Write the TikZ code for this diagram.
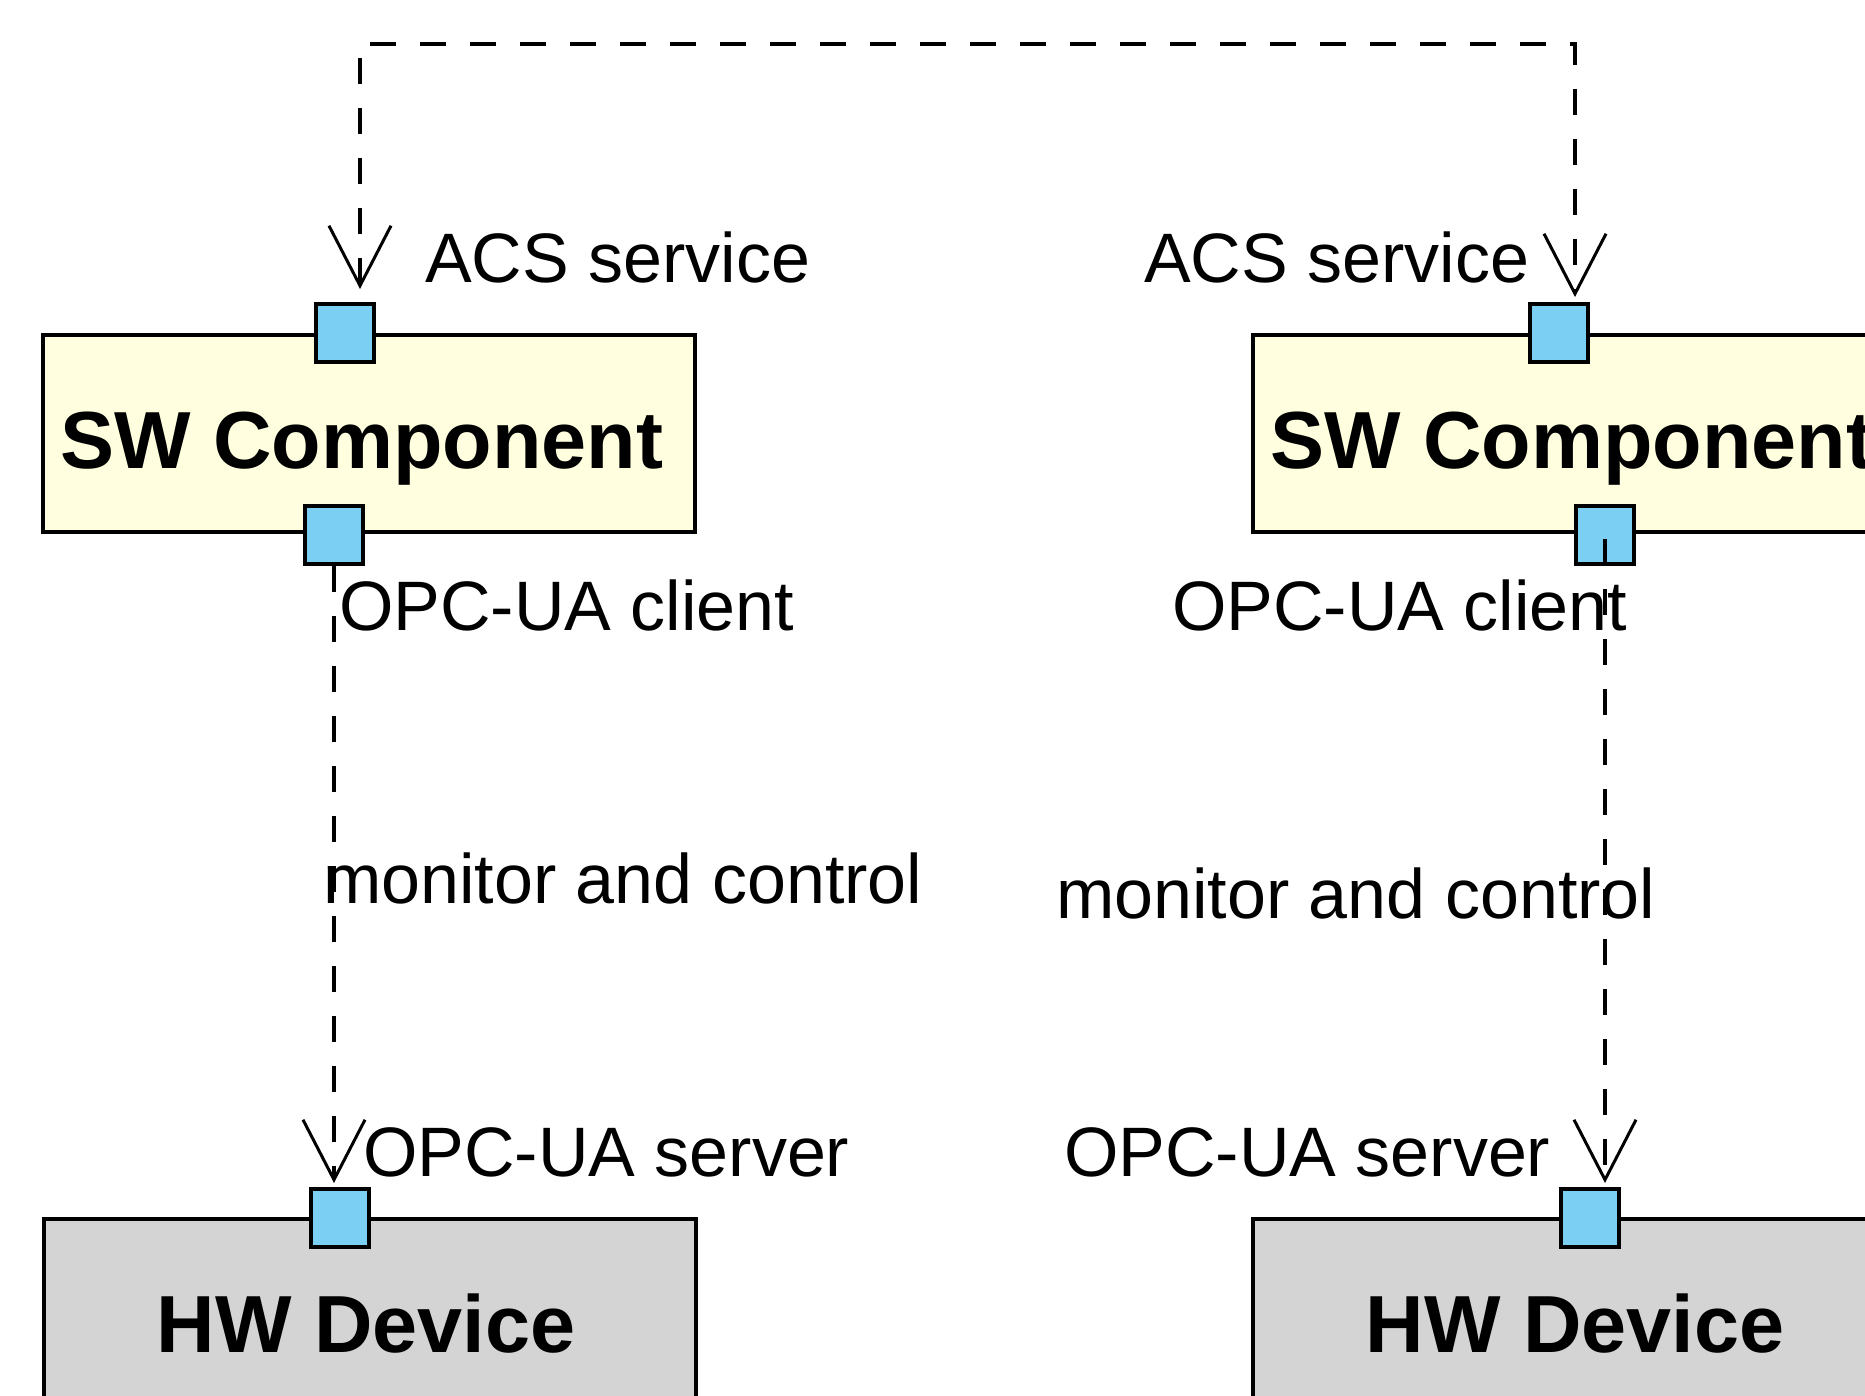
\documentclass[tikz,border=0pt]{standalone}
\usepackage{fontspec}
\setmainfont{Liberation Sans}
\usetikzlibrary{arrows.meta}
\definecolor{portblue}{RGB}{123,207,242}
\definecolor{swyellow}{RGB}{255,255,224}
\definecolor{hwgray}{RGB}{212,212,212}
\tikzset{
  compbox/.style={draw=black, line width=3.5pt, fill=swyellow, rectangle, inner sep=0pt, anchor=north west, minimum width=652pt, minimum height=197pt},
  hwbox/.style={draw=black, line width=3.5pt, fill=hwgray, rectangle, inner sep=0pt, anchor=north west, minimum width=652pt, minimum height=420pt},
  port/.style={draw=black, line width=3.5pt, fill=portblue, rectangle, inner sep=0pt, minimum width=58pt, minimum height=58pt},
  boldtext/.style={inner sep=0pt, anchor=base, font=\fontsize{81}{96}\selectfont\bfseries},
  lbl/.style={inner sep=0pt, anchor=base west, font=\fontsize{70}{84}\selectfont},
  conn/.style={draw=black, line width=3.5pt, dash pattern=on 26pt off 24pt},
  barb/.style={-{Straight Barb[length=60pt, width=62pt, line width=3pt]}},
  barbs/.style={{Straight Barb[length=60pt, width=62pt, line width=3pt]}-{Straight Barb[length=60pt, width=62pt, line width=3pt]}},
}
\begin{document}
\begin{tikzpicture}[x=1pt, y=-1pt]
\useasboundingbox (0,0) rectangle (1865,1395);
% components
\node[compbox] (sw1) at (41,333) {};
\node[compbox] (sw2) at (1251,333) {};
\node[hwbox] (hw1) at (42,1217) {};
\node[hwbox] (hw2) at (1251,1217) {};
\node[boldtext] (sw1t) at (362,468.5) {SW Component};
\node[boldtext] (sw2t) at (1572,468.5) {SW Component};
\node[boldtext] (hw1t) at (366,1352) {HW Device};
\node[boldtext] (hw2t) at (1575,1352) {HW Device};
% ports
\node[port] (p1t) at (345,333) {};
\node[port] (p1b) at (334,535) {};
\node[port] (p2t) at (1559,333) {};
\node[port] (p2b) at (1605,535) {};
\node[port] (h1) at (340,1218) {};
\node[port] (h2) at (1590,1218) {};
% connector end points
\coordinate (a1) at (360,289);
\coordinate (c1) at (360,44);
\coordinate (c2) at (1575,44);
\coordinate (a2) at (1575,297);
\coordinate (m1) at (334,1183);
\coordinate (m2s) at (1605,539);
\coordinate (m2) at (1605,1183);
% connectors
\draw[conn, barbs] (a1) -- (c1) -- (c2) -- (a2);
\draw[conn, barb] (p1b.south) -- (m1);
\draw[conn, barb] (m2s) -- (m2);
% labels
\node[lbl] (l1) at (425,282) {ACS service};
\node[lbl] (l2) at (1144,282) {ACS service};
\node[lbl] (l3) at (339,630) {OPC-UA client};
\node[lbl] (l4) at (1172,630) {OPC-UA client};
\node[lbl] (l5) at (323,903) {monitor and control};
\node[lbl] (l6) at (1056,918) {monitor and control};
\node[lbl] (l7) at (363,1176) {OPC-UA server};
\node[lbl] (l8) at (1064,1176) {OPC-UA server};
\end{tikzpicture}
\end{document}
